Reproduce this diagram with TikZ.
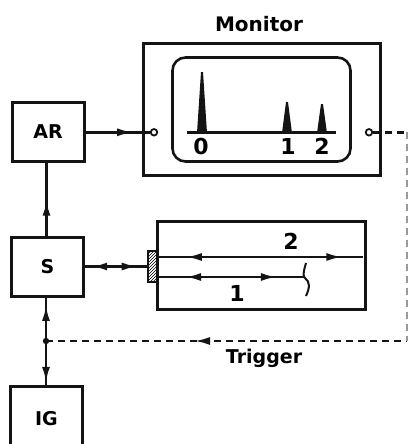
\documentclass[tikz,border=0pt]{standalone}
\usepackage{fontspec}
\setmainfont{DejaVu Sans}
\usetikzlibrary{arrows.meta,decorations.markings,patterns}
\tikzset{
  x=1pt,y=-1pt,
  ink/.style={draw=black!92,line width=3pt},
  blockbox/.style={ink,rectangle,minimum width=72pt,minimum height=59pt,inner sep=0pt,font=\fontsize{19}{19}\selectfont\bfseries},
  wire/.style={black!92,line width=2.6pt},
  fwd/.style={postaction={decorate,decoration={markings,mark=at position #1 with {\arrow{Latex[length=16pt,width=8pt]}}}}},
  bwd/.style={postaction={decorate,decoration={markings,mark=at position #1 with {\arrowreversed{Latex[length=16pt,width=8pt]}}}}},
  dashwire/.style={wire,dash pattern=on 7pt off 5pt},
  lbl/.style={inner sep=0pt,font=\fontsize{19}{19}\selectfont\bfseries},
  numlbl/.style={inner sep=0pt,font=\fontsize{22}{22}\selectfont\bfseries},
  port/.style={circle,draw=black!92,fill=white,line width=1.8pt,minimum size=6.5pt,inner sep=0pt},
  peak/.style={fill=black!92,draw=none},
}
\begin{document}
\begin{tikzpicture}
\clip (0,0) rectangle (408,444);
\node[blockbox] (AR) at (48,132) {AR};
\node[blockbox] (S) at (47.5,266.5) {S};
\node[blockbox,minimum height=66pt] (IG) at (46.5,419) {IG};
\node[ink,rectangle,minimum width=237pt,minimum height=132pt,inner sep=0pt] (mon) at (262,109.5) {};
\node[lbl,font=\fontsize{20}{20}\selectfont\bfseries] (montitle) at (259,24) {Monitor};
\node[ink,rectangle,rounded corners=13pt,line width=2.6pt,minimum width=178pt,minimum height=104pt,inner sep=0pt] (screen) at (261.5,109.5) {};
\coordinate (b0) at (187,132.3);
\coordinate (b1) at (336,132.3);
\draw[wire] (b0) -- (b1);
\fill[peak] (197,133) -- (201,72) -- (203,72) -- (207,133) -- cycle;
\fill[peak] (282,133) -- (286,102) -- (288,102) -- (292,133) -- cycle;
\fill[peak] (317,133) -- (321,104) -- (323,104) -- (327,133) -- cycle;
\node[numlbl] (n0) at (201,146) {0};
\node[numlbl] (n1) at (288,146) {1};
\node[numlbl] (n2) at (322,146) {2};
\node[port] (pl) at (154,132.3) {};
\node[port] (pr) at (369,132.3) {};
\draw[wire,fwd=0.74] (AR.east |- pl.west) -- (pl.west);
\coordinate (as) at (46.5,162);
\coordinate (sn) at (46.5,236);
\draw[wire,bwd=0.51] (as) -- (sn);
% delay line
\node[ink,rectangle,minimum width=208pt,minimum height=88pt,inner sep=0pt] (line) at (261.5,265.5) {};
\node[draw=black!92,line width=2pt,pattern=north east lines,pattern color=black,minimum width=9pt,minimum height=31pt,inner sep=0pt] (hatch) at (152.5,266.5) {};
\draw[wire,bwd=0.1,fwd=0.85] (S.east) -- (hatch.west);
\coordinate (l2a) at (157,257);
\coordinate (l2b) at (363,257);
\coordinate (l1a) at (157,277);
\coordinate (refl) at (305,277);
\draw[wire,bwd=0.14,fwd=0.9] (l2a) -- (l2b);
\draw[wire,bwd=0.19,fwd=0.81] (l1a) -- (refl);
\draw[wire,line width=2pt] (306,263) .. controls (303,273) and (303,277) .. (305,278) .. controls (310,282) and (310,287) .. (306,296);
\node[numlbl] (n2b) at (291,241) {2};
\node[numlbl] (n1b) at (237,293) {1};
% vertical S-IG with junction
\coordinate (j) at (46,341);
\coordinate (sb) at (46,296.5);
\coordinate (igt) at (46,386);
\draw[wire,bwd=0.19] (sb) -- (j);
\draw[wire,fwd=0.93] (j) -- (igt);
\fill[black!92] (j) circle (3.2pt);
% trigger
\coordinate (tr) at (407,341);
\coordinate (tv) at (407,132.3);
\draw[dashwire,bwd=0.41] (j) -- (tr);
\draw[dashwire] (pr.east) -- (tv);
\draw[dashwire,black!40,line width=1.1pt] (tv) -- (tr);
\node[lbl] (trig) at (264,358) {Trigger};
\end{tikzpicture}
\end{document}
